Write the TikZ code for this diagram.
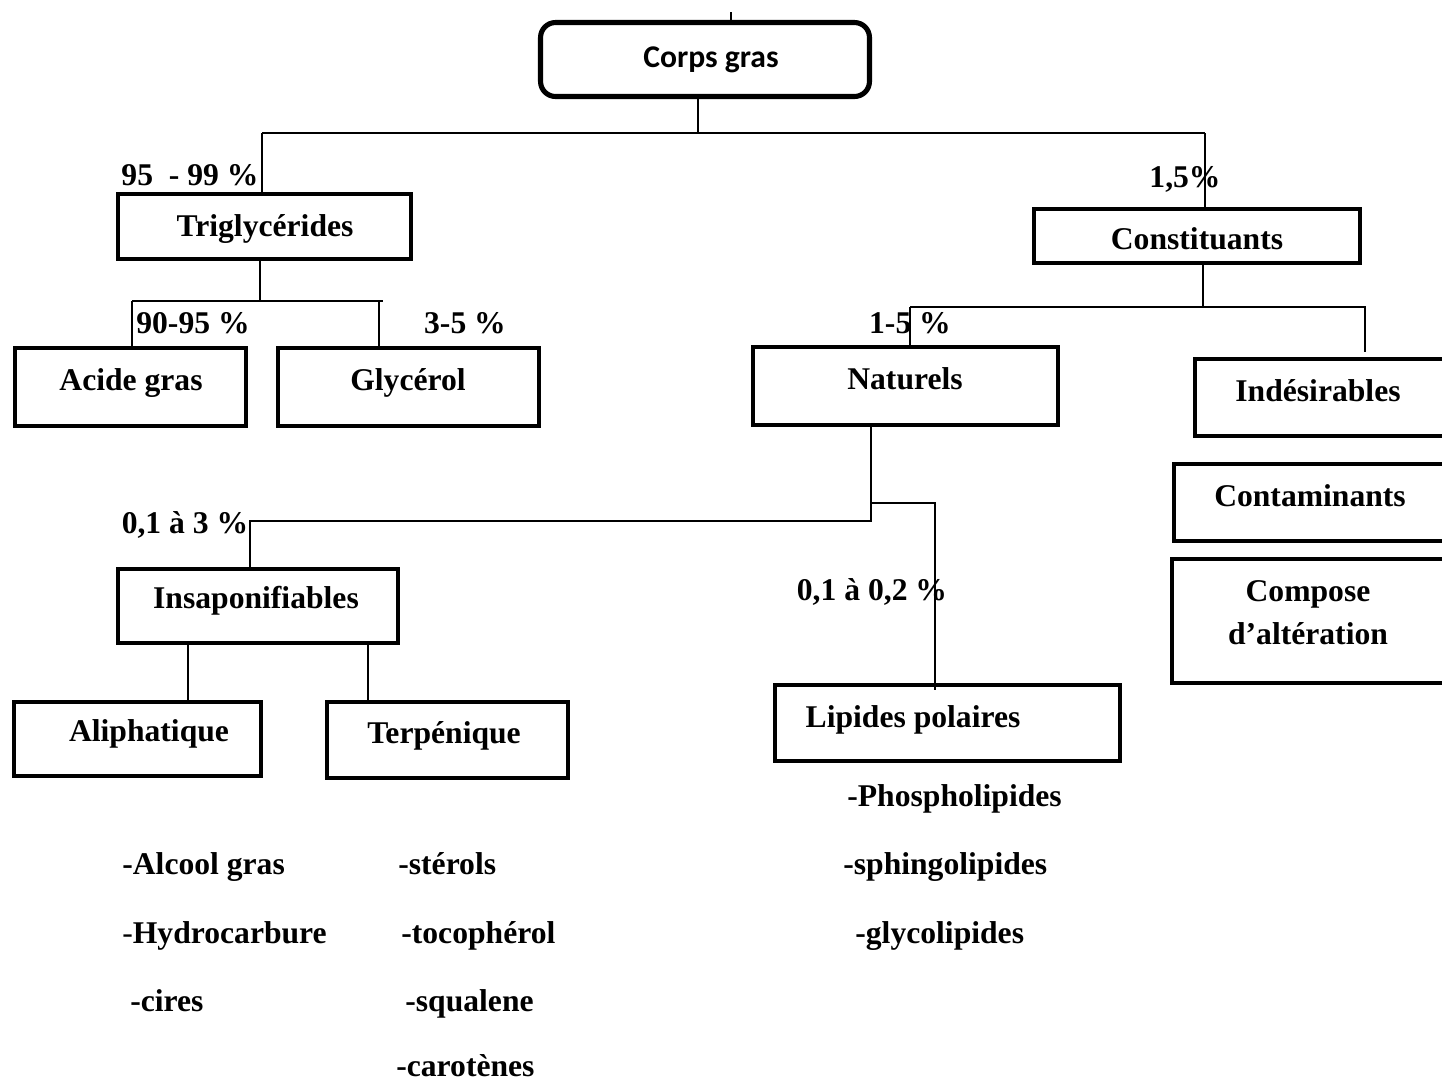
\documentclass[tikz,border=0pt]{standalone}
\usepackage{fontspec}
\setmainfont{Liberation Serif}
\newfontfamily\calibri{Carlito}
\begin{document}
\begin{tikzpicture}[x=0.02cm,y=-0.02cm,
  box/.style={draw,line width=2.6pt,inner sep=0pt,outer sep=0pt},
  rootbox/.style={draw,line width=2.9pt,rounded corners=0.3cm,inner sep=0pt,outer sep=0pt},
  lbl/.style={font=\bfseries\fontsize{18}{22}\selectfont,inner sep=0pt,anchor=base},
  item/.style={lbl,anchor=base west},
  link/.style={line width=0.85pt},
]
\useasboundingbox (0,0) rectangle (1442,1083);
\clip (0,0) rectangle (1442,1083);

% ---- boxes ----
\node[rootbox,minimum width=6.58cm,minimum height=1.48cm] (corps) at (705,59.5) {};
\node[box,minimum width=5.86cm,minimum height=1.30cm] (trig) at (264.5,226.5) {};
\node[box,minimum width=4.62cm,minimum height=1.56cm] (acide) at (130.5,387) {};
\node[box,minimum width=5.22cm,minimum height=1.56cm] (glyc) at (408.5,387) {};
\node[box,minimum width=6.52cm,minimum height=1.08cm] (const) at (1197,236) {};
\node[box,minimum width=6.10cm,minimum height=1.56cm] (natur) at (905.5,386) {};
\node[box,minimum width=5.06cm,minimum height=1.54cm] (indes) at (1321.5,397.5) {};
\node[box,minimum width=5.48cm,minimum height=1.54cm] (contam) at (1311,502.5) {};
\node[box,minimum width=5.52cm,minimum height=2.48cm] (compose) at (1310,621) {};
\node[box,minimum width=5.60cm,minimum height=1.48cm] (insap) at (258,606) {};
\node[box,minimum width=4.94cm,minimum height=1.48cm] (aliph) at (137.5,739) {};
\node[box,minimum width=4.82cm,minimum height=1.52cm] (terp) at (447.5,740) {};
\node[box,minimum width=6.90cm,minimum height=1.52cm] (lip) at (947.5,723) {};

% ---- box titles ----
\node[lbl,font=\calibri\bfseries\fontsize{18}{22}\selectfont] (tCorps) at (711,67) {Corps gras};
\node[lbl] (tTrig) at (265,236) {Triglycérides};
\node[lbl] (tAcide) at (131,390) {Acide gras};
\node[lbl] (tGlyc) at (408,390) {Glycérol};
\node[lbl] (tConst) at (1197,249) {Constituants};
\node[lbl] (tNatur) at (905,389) {Naturels};
\node[lbl] (tIndes) at (1318,401) {Indésirables};
\node[lbl] (tContam) at (1310,506) {Contaminants};
\node[lbl,anchor=center,align=center,font=\bfseries\fontsize{18}{24.4}\selectfont] (tCompose) at (1308,613) {Compose\\d’altération};
\node[lbl] (tInsap) at (256,608) {Insaponifiables};
\node[lbl] (tAliph) at (149,741) {Aliphatique};
\node[lbl] (tTerp) at (444,743) {Terpénique};
\node[lbl] (tLip) at (913,727) {Lipides polaires};

% ---- proportions ----
\node[lbl] (p1) at (190,185) {95\ \ - 99 \%};
\node[lbl] (p2) at (193,333) {90-95 \%};
\node[lbl] (p3) at (465,333) {3-5 \%};
\node[lbl] (p4) at (1185,187) {1,5\%};
\node[lbl] (p5) at (910,333) {1-5 \%};
\node[lbl] (p6) at (185,533) {0,1 à 3 \%};
\node[lbl] (p7) at (872,600) {0,1 à 0,2 \%};

% ---- component lists ----
\node[item] (l1) at (847,806) {-Phospholipides};
\node[item] (l2) at (843,874) {-sphingolipides};
\node[item] (l3) at (855,943) {-glycolipides};
\node[item] (a1) at (122,874) {-Alcool gras};
\node[item] (a2) at (122,943) {{\mdseries -}Hydrocarbure};
\node[item] (a3) at (130,1011) {-cires};
\node[item] (t1) at (398,874) {-stérols};
\node[item] (t2) at (401,943) {-tocophérol};
\node[item] (t3) at (405,1011) {-squalene};
\node[item] (t4) at (396,1076) {-carotènes};

% ---- junction points ----
\coordinate (tick) at (731,12);
\coordinate (j0) at (698,133);
\coordinate (jL) at (262,133);
\coordinate (jR) at (1205,133);
\coordinate (j1) at (260,301);
\coordinate (j1a) at (132,301);
\coordinate (j1b) at (379,301);
\coordinate (j1e) at (383,301);
\coordinate (j2) at (1203,307);
\coordinate (j2a) at (910,307);
\coordinate (j2b) at (1365,307);
\coordinate (j2end) at (1365,352);
\coordinate (j3) at (871,521);
\coordinate (j3a) at (250,521);
\coordinate (j4) at (872,503);
\coordinate (j4a) at (935,503);
\coordinate (j5a) at (188,645);
\coordinate (j5b) at (368,645);

% ---- connectors ----
\draw[link] (tick) -- (tick |- corps.north);
\draw[link] (corps.south -| j0) -- (j0);
\draw[link] (jL) -- (jR);
\draw[link] (jL) -- (jL |- trig.north);
\draw[link] (jR) -- (jR |- const.north);

\draw[link] (trig.south -| j1) -- (j1);
\draw[link] (j1a) -- (j1e);
\draw[link] (j1a) -- (j1a |- acide.north);
\draw[link] (j1b) -- (j1b |- glyc.north);

\draw[link] (const.south -| j2) -- (j2);
\draw[link] (j2a) -- (j2b) -- (j2end);
\draw[link] (j2a) -- (j2a |- natur.north);

\draw[link] (natur.south -| j3) -- (j3) -- (j3a) -- (j3a |- insap.north);
\draw[link] (j4) -- (j4a) -- ([yshift=-0.1cm]j4a |- lip.north);

\draw[link] (insap.south -| j5a) -- (j5a |- aliph.north);
\draw[link] (insap.south -| j5b) -- (j5b |- terp.north);
\end{tikzpicture}
\end{document}
